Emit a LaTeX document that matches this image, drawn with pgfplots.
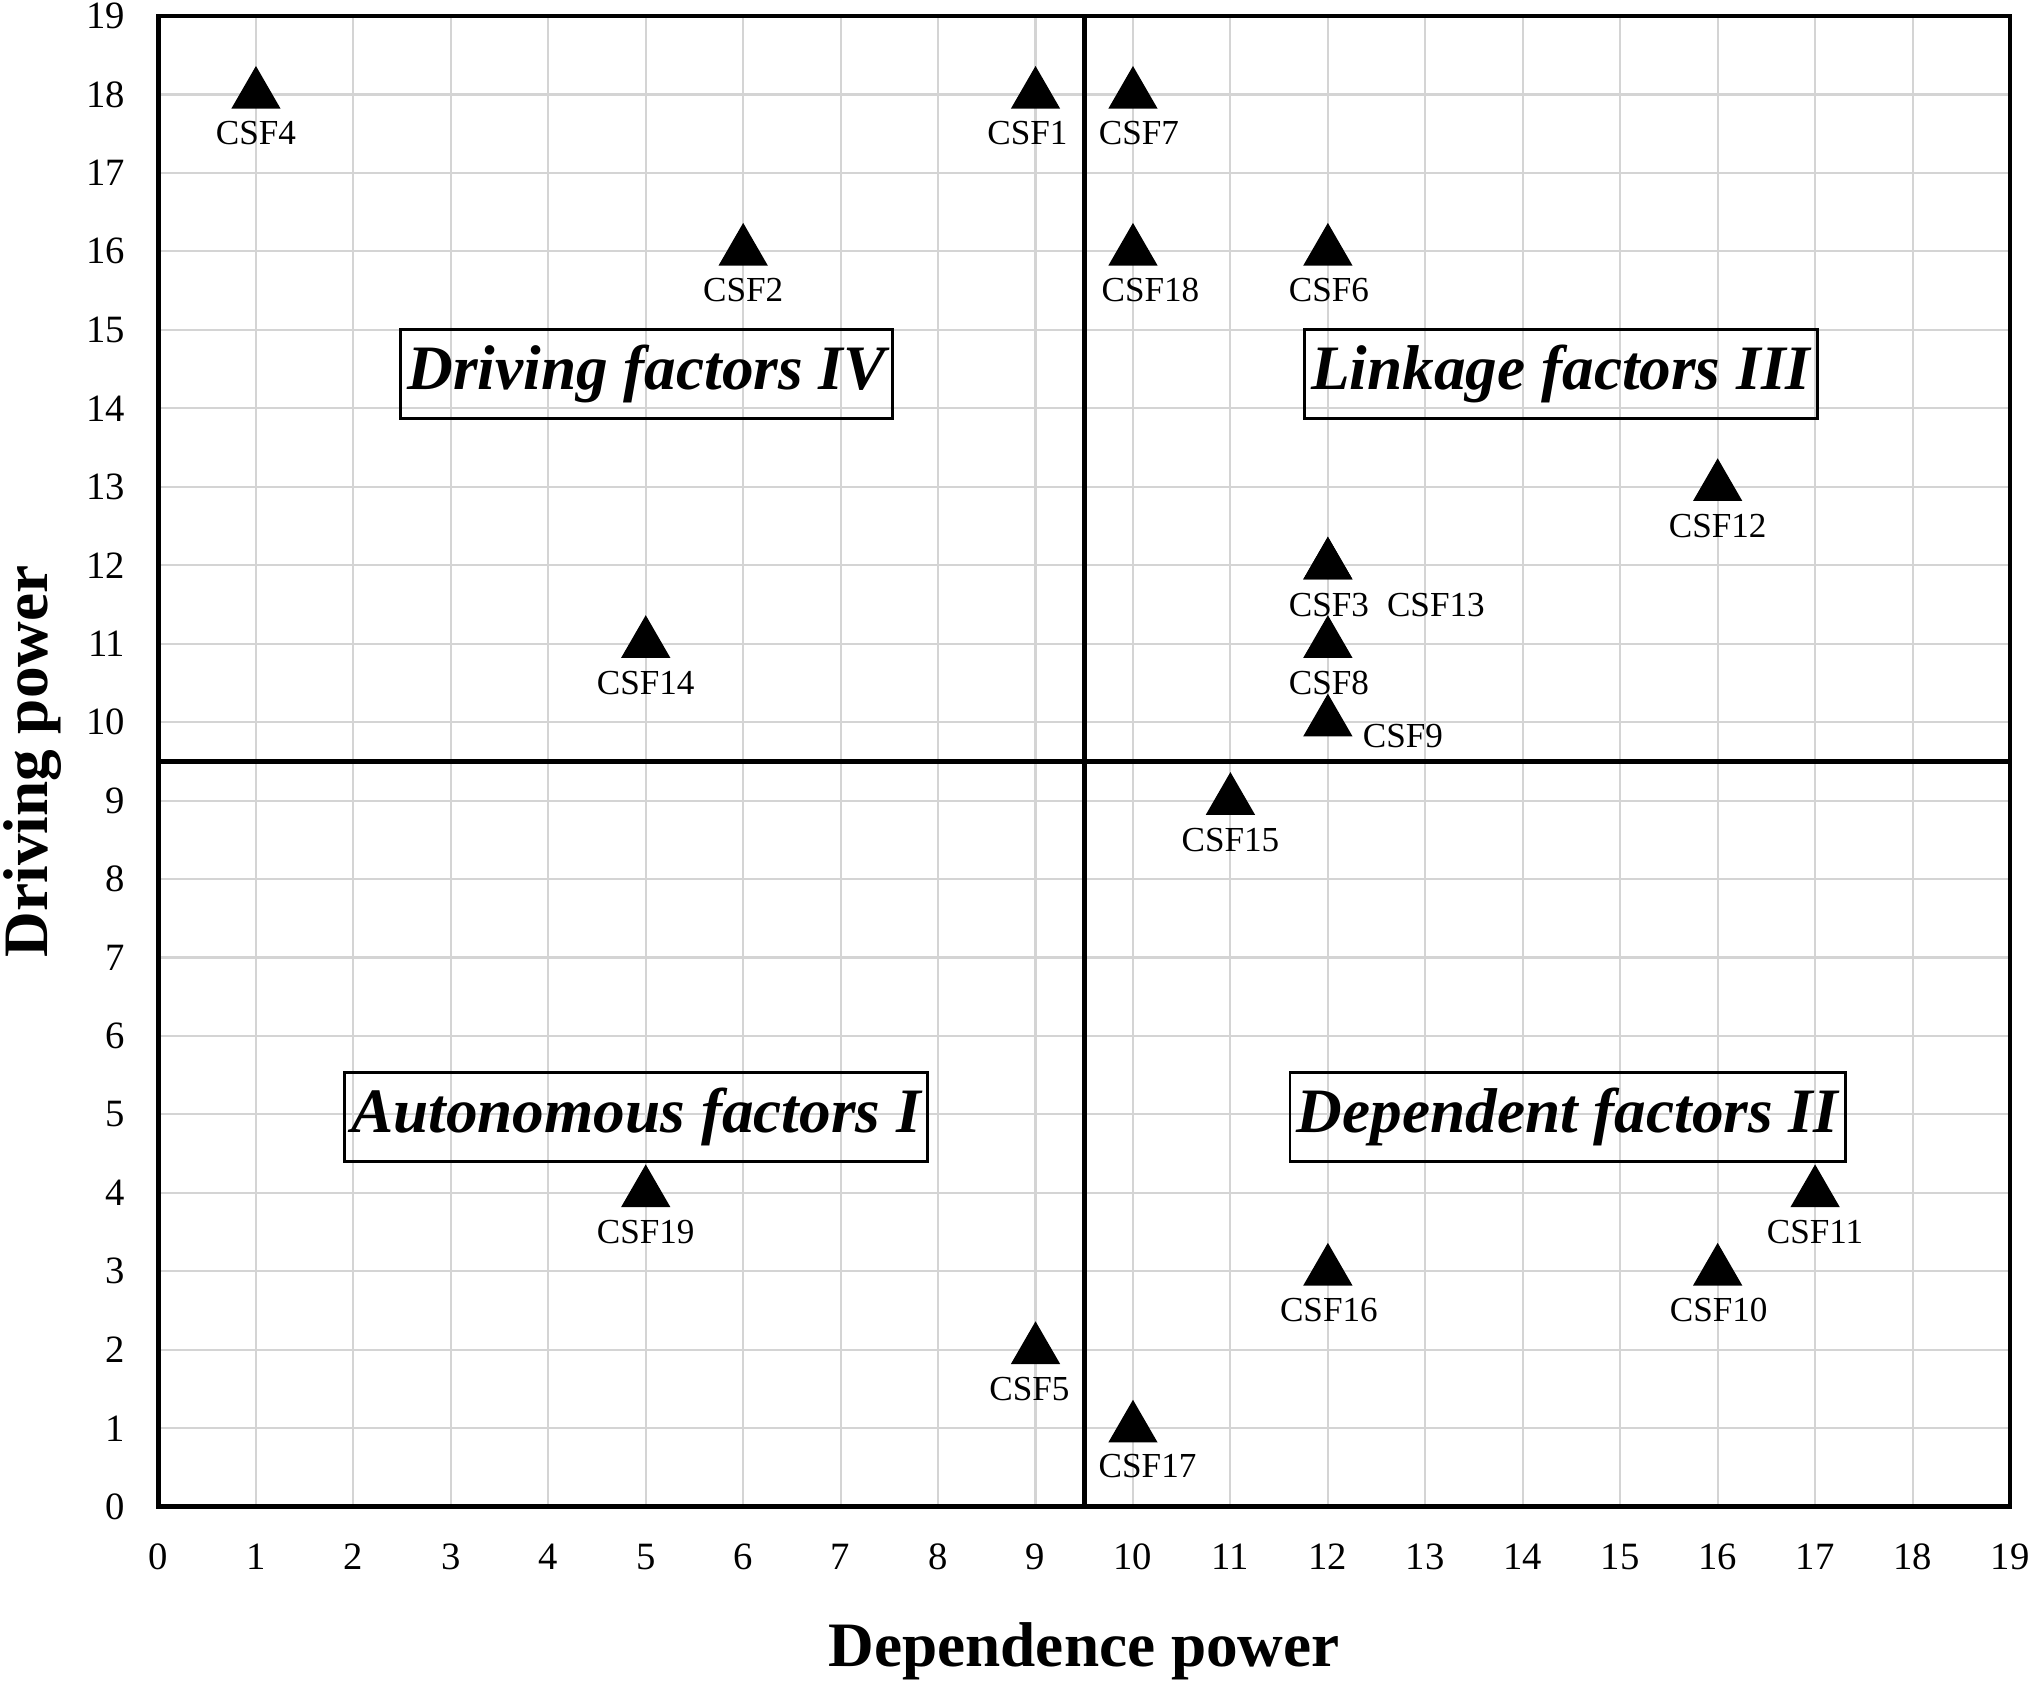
\documentclass[border=0pt]{standalone}
\usepackage{fontspec}
\setmainfont{Liberation Serif}
\usepackage{pgfplots}
\usepackage{pgfplotstable}
\pgfplotsset{compat=1.18}

\pgfplotstableread{
x y lbl dx dy
1 18 CSF4 0 -0.39
9 18 CSF1 -0.08 -0.39
10 18 CSF7 0.06 -0.39
6 16 CSF2 0 -0.39
10 16 CSF18 0.175 -0.385
12 16 CSF6 0.01 -0.39
16 13 CSF12 0 -0.39
12 12 CSF3 0.01 -0.40
12 12 CSF13 1.08 -0.40
5 11 CSF14 0 -0.39
12 11 CSF8 0.01 -0.39
12 10 CSF9 0.75 -0.135
11 9 CSF15 0 -0.39
5 4 CSF19 0 -0.39
17 4 CSF11 0 -0.39
12 3 CSF16 0.01 -0.39
16 3 CSF10 0.01 -0.39
9 2 CSF5 -0.06 -0.39
10 1 CSF17 0.146 -0.38
}\pts

\begin{document}
\begin{tikzpicture}
\useasboundingbox (-1.585,-1.753) rectangle (18.725,15.067);
\begin{axis}[
  at={(0,0)}, anchor=south west,
  width=18.515cm, height=14.907cm, scale only axis,
  xmin=0, xmax=19, ymin=0, ymax=19,
  xtick={0,...,19}, ytick={0,...,19},
  grid=major,
  major grid style={line width=0.6pt, color=black!17},
  major tick length=0pt,
  axis line style={line width=1.3pt},
  /pgf/number format/assume math mode=true,
  tick label style={font=\fontsize{11}{13}\selectfont, inner sep=0pt},
  xticklabel style={anchor=north, yshift=-0.366cm},
  yticklabel style={anchor=east, xshift=-0.325cm},
  xlabel={Dependence power},
  ylabel={Driving power},
  label style={font=\fontsize{18}{21}\selectfont\bfseries, inner sep=0pt},
  x label style={at={(axis description cs:0.5,-0.09680)}, anchor=center},
  y label style={at={(axis description cs:-0.0680,0.5)}, anchor=center},
  clip=false,
]
\addplot[black, line width=1.4pt] coordinates {(9.5,0) (9.5,19)};
\addplot[black, line width=1.4pt] coordinates {(0,9.5) (19,9.5)};
\addplot[
  only marks, mark=triangle*, mark size=7.7pt, black,
  mark options={fill=black, draw=black},
  point meta=explicit symbolic,
  nodes near coords,
  visualization depends on={\thisrow{dx} \as \dx},
  visualization depends on={\thisrow{dy} \as \dy},
  every node near coord/.append style={anchor=center, xshift=\dx cm, yshift=\dy cm,
     font=\fontsize{10}{12}\selectfont, text=black, inner sep=0pt},
] table[x=x, y=y, meta=lbl] {\pts};

\node[draw, line width=0.8pt, inner xsep=2pt, minimum height=0.89cm,
  font=\fontsize{18}{21}\selectfont\bfseries\itshape] at (axis cs:5.01,14.44) {Driving factors IV};
\node[draw, line width=0.8pt, inner xsep=2pt, minimum height=0.89cm,
  font=\fontsize{18}{21}\selectfont\bfseries\itshape] at (axis cs:14.39,14.44) {Linkage factors III};
\node[draw, line width=0.8pt, inner xsep=2pt, minimum height=0.89cm,
  font=\fontsize{18}{21}\selectfont\bfseries\itshape] at (axis cs:4.90,4.97) {Autonomous factors I};
\node[draw, line width=0.8pt, inner xsep=2pt, minimum height=0.89cm,
  font=\fontsize{18}{21}\selectfont\bfseries\itshape] at (axis cs:14.46,4.97) {Dependent factors II};
\end{axis}
\end{tikzpicture}
\end{document}
